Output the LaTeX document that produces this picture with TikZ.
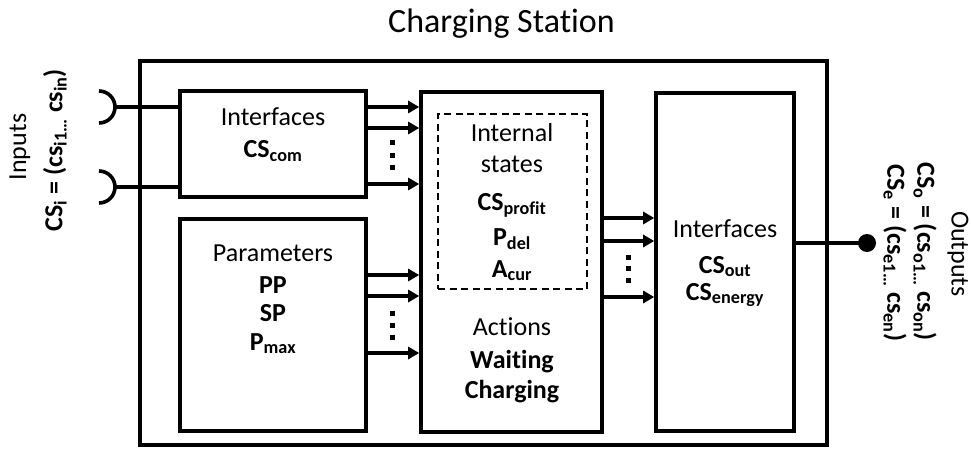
\documentclass[tikz,border=0pt]{standalone}
\usepackage{fontspec}
\setmainfont{Carlito}[Ligatures=NoCommon]
\usetikzlibrary{arrows.meta}
\newcommand\sbx[1]{\textsubscript{#1}}
\begin{document}
\begin{tikzpicture}[x=1pt,y=-1pt,
  box/.style={draw,line width=3.6pt,inner sep=0pt},
  dbox/.style={draw,line width=1.4pt,dash pattern=on 7pt off 4.5pt,inner sep=0pt},
  conn/.style={line width=3.6pt},
  arr/.style={line width=3.6pt,-{Triangle[length=11pt,width=12pt]}},
  lbl/.style={font=\fontsize{26}{31}\selectfont,inner sep=0pt,anchor=base},
  blbl/.style={font=\fontsize{26}{31}\selectfont\bfseries,inner sep=0pt,anchor=base},
  rlbl/.style={font=\fontsize{26}{31}\selectfont,inner sep=0pt,anchor=center},
  dot/.style={fill,rectangle,inner sep=0pt,minimum size=5pt}]
\useasboundingbox (0,0) rectangle (971,449);
% title
\node[font=\fontsize{34}{40}\selectfont,inner sep=0pt,anchor=base] (title) at (501.5,33) {Charging Station};
% boxes
\node[box,minimum width=687pt,minimum height=384pt] (outer) at (483.5,253) {};
\node[box,minimum width=186pt,minimum height=106pt] (inif) at (273,144) {};
\node[box,minimum width=186pt,minimum height=212pt] (param) at (273,325) {};
\node[box,minimum width=181pt,minimum height=340pt] (mid) at (511.5,262) {};
\node[dbox,minimum width=149pt,minimum height=175pt] (state) at (512.5,201.5) {};
\node[box,minimum width=138pt,minimum height=338pt] (outif) at (725,262) {};
% texts: input interfaces
\node[lbl] (t1) at (273,126) {Interfaces};
\node[blbl] (t2) at (273,158) {CS\sbx{com}};
% parameters
\node[lbl] (t3) at (273,261) {Parameters};
\node[blbl] (t4) at (273,293) {PP};
\node[blbl] (t5) at (273,321) {SP};
\node[blbl] (t6) at (273,350) {P\sbx{max}};
% internal states
\node[lbl] (t7) at (512,142) {Internal};
\node[lbl] (t8) at (512,172) {states};
\node[blbl] (t9) at (512,210) {CS\sbx{profit}};
\node[blbl] (t10) at (512,245) {P\sbx{del}};
\node[blbl] (t11) at (512,277) {A\sbx{cur}};
% actions
\node[lbl] (t12) at (512,335) {Actions};
\node[blbl] (t13) at (512,368) {Waiting};
\node[blbl] (t14) at (512,398) {Charging};
% output interfaces
\node[lbl] (t15) at (725,237) {Interfaces};
\node[blbl] (t16) at (725,273) {CS\sbx{out}};
\node[blbl] (t17) at (725,300) {CS\sbx{energy}};
% inputs
\draw[conn] (99,91) arc[start angle=90,end angle=-90,radius=16pt];
\draw[conn] (99,171) arc[start angle=90,end angle=-90,radius=16pt];
\coordinate (in1) at (115,107);
\coordinate (in2) at (115,187);
\draw[conn] (in1) -- (inif.west |- in1);
\draw[conn] (in2) -- (inif.west |- in2);
\node[rlbl,rotate=90] (inl) at (20,147) {Inputs};
\node[rlbl,rotate=90,font=\fontsize{26}{31}\selectfont\bfseries] (csi) at (55,150) {CS\sbx{i} = (cs\sbx{i1\dots} cs\sbx{in})};
% outputs
\coordinate (out) at (867,243);
\draw[conn] (outif.east |- out) -- (out);
\fill (out) circle[radius=9pt];
\node[rlbl,rotate=-90] (outl) at (958,254) {Outputs};
\node[rlbl,rotate=-90,font=\fontsize{26}{31}\selectfont\bfseries] (cso) at (925,252) {CS\sbx{o} = (cs\sbx{o1\dots} cs\sbx{on})};
\node[rlbl,rotate=-90,font=\fontsize{26}{31}\selectfont\bfseries] (cse) at (895,253) {CS\sbx{e} = (cs\sbx{e1\dots} cs\sbx{en})};
% arrows interfaces -> mid
\foreach \y in {107,128,184} \draw[arr] (inif.east |- 0,\y) -- (mid.west |- 0,\y);
\foreach \y in {143,156,168} \node[dot] at (392,\y) {};
% arrows parameters -> mid
\foreach \y in {275,296,353} \draw[arr] (param.east |- 0,\y) -- (mid.west |- 0,\y);
\foreach \y in {313,325,337} \node[dot] at (392,\y) {};
% arrows mid -> output interfaces
\foreach \y in {218,241,297} \draw[arr] (mid.east |- 0,\y) -- (outif.west |- 0,\y);
\foreach \y in {257,268,280} \node[dot] at (628,\y) {};
\end{tikzpicture}
\end{document}
